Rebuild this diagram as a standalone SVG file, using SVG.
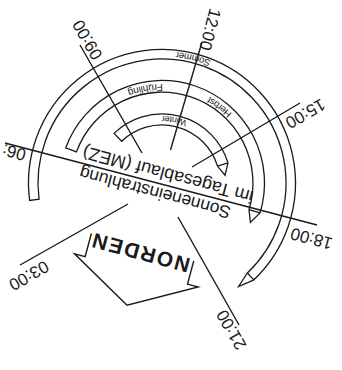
<svg xmlns="http://www.w3.org/2000/svg" width="342" height="370" viewBox="0 0 342 370">
<style>
.ln{stroke:#1a1a1a;stroke-width:1.4;fill:none;stroke-linecap:butt}
.band{stroke:#1a1a1a;stroke-width:1.3;fill:none;stroke-linejoin:miter}
.t{font-family:"Liberation Sans",Arial,Helvetica,sans-serif;fill:#1a1a1a}
.hr{font-size:17px}
.sea{font-size:9.5px}
.ttl{font-size:17.5px}
</style>
<rect width="342" height="370" fill="#ffffff"/>
<defs>
<path id="pSommer" d="M-63.90,115.27 A131.8,131.8 0 0 0 67.88,112.98"/>
<path id="pFruehling" d="M-8.63,98.62 A99,99 0 0 0 81.10,56.78"/>
<path id="pHerbst" d="M-77.62,60.64 A98.5,98.5 0 0 0 13.71,97.54"/>
<path id="pWinter" d="M-29.37,60.22 A67,67 0 0 0 37.47,55.54"/>
</defs>

<g id="connectors">
<line class="ln" x1="5" y1="143" x2="317" y2="225"/>
<line class="ln" x1="202" y1="42" x2="170.5" y2="150"/>
<line class="ln" x1="80" y1="45" x2="142" y2="153"/>
<line class="ln" x1="300" y1="103" x2="192" y2="167"/>
<line class="ln" x1="178" y1="217" x2="239" y2="325"/>
<line class="ln" x1="128" y1="204" x2="20" y2="265"/>
</g>

<g id="sun-paths" transform="translate(162,183) rotate(195)">
<g id="band-winter">
<path class="band" d="M59.15,35.54 A69,69 0 0 1 -58.51,36.56 L-58.88,23.79 L-49.18,30.73 A58,58 0 0 0 49.72,29.87 Z"/>
<path class="band" d="M-58.51,36.56 L-49.18,30.73"/>
<text class="t" font-size="9"><textPath href="#pWinter" startOffset="50%" text-anchor="middle">Winter</textPath></text>
</g>
<g id="band-fruehling-herbst">
<path class="band" d="M102.11,8.93 A102.5,102.5 0 0 1 -102.44,-3.58 L-95.56,-15.13 L-90.94,-3.18 A91,91 0 0 0 90.65,7.93 Z"/>
<path class="band" d="M-102.44,-3.58 L-90.94,-3.18"/>
<text class="t" font-size="10"><textPath href="#pFruehling" startOffset="50%" text-anchor="middle">Frühling</textPath></text>
<text class="t sea"><textPath href="#pHerbst" startOffset="50%" text-anchor="middle">Herbst</textPath></text>
</g>
<g id="band-sommer">
<path class="band" d="M123.34,-51.09 A133.5,133.5 0 1 1 -113.82,-69.75 L-100.76,-80.15 L-105.72,-64.79 A124,124 0 1 0 114.56,-47.45 Z"/>
<path class="band" d="M-113.82,-69.75 L-105.72,-64.79"/>
<text class="t sea"><textPath href="#pSommer" startOffset="50%" text-anchor="middle">Sommer</textPath></text>
</g>
</g>

<g id="hour-labels">
<text class="t hr" text-anchor="middle" transform="translate(204.5,28) rotate(105)">12:00</text>
<text class="t hr" text-anchor="middle" transform="translate(302.5,108.7) rotate(150)">15:00</text>
<text class="t hr" text-anchor="middle" transform="translate(313,233) rotate(195)">18:00</text>
<text class="t hr" text-anchor="middle" transform="translate(236.3,327) rotate(240)">21:00</text>
<text class="t hr" text-anchor="middle" transform="translate(92.3,37) rotate(240)">09:00</text>
<text class="t hr" text-anchor="middle" transform="translate(26,270.7) rotate(150)">03:00</text>
<text class="t hr" text-anchor="start" transform="translate(27,149.8) rotate(195)">06:</text>
</g>

<g id="title">
<text class="t ttl" text-anchor="middle" transform="translate(156.5,187) rotate(195)">Sonneneinstrahlung</text>
<text class="t" font-size="18" text-anchor="middle" transform="translate(169.4,168.7) rotate(195)">im Tagesablauf (MEZ)</text>
</g>

<g id="north-arrow" transform="translate(141,253) rotate(195)">
<polyline class="ln" points="-53,6 -53,-18 -64,-18 0,-54 64,-18 53,-18 53,6"/>
<text class="t" font-size="21" font-weight="bold" text-anchor="middle" x="0" y="7.5" textLength="100" lengthAdjust="spacing">NORDEN</text>
</g>
</svg>
